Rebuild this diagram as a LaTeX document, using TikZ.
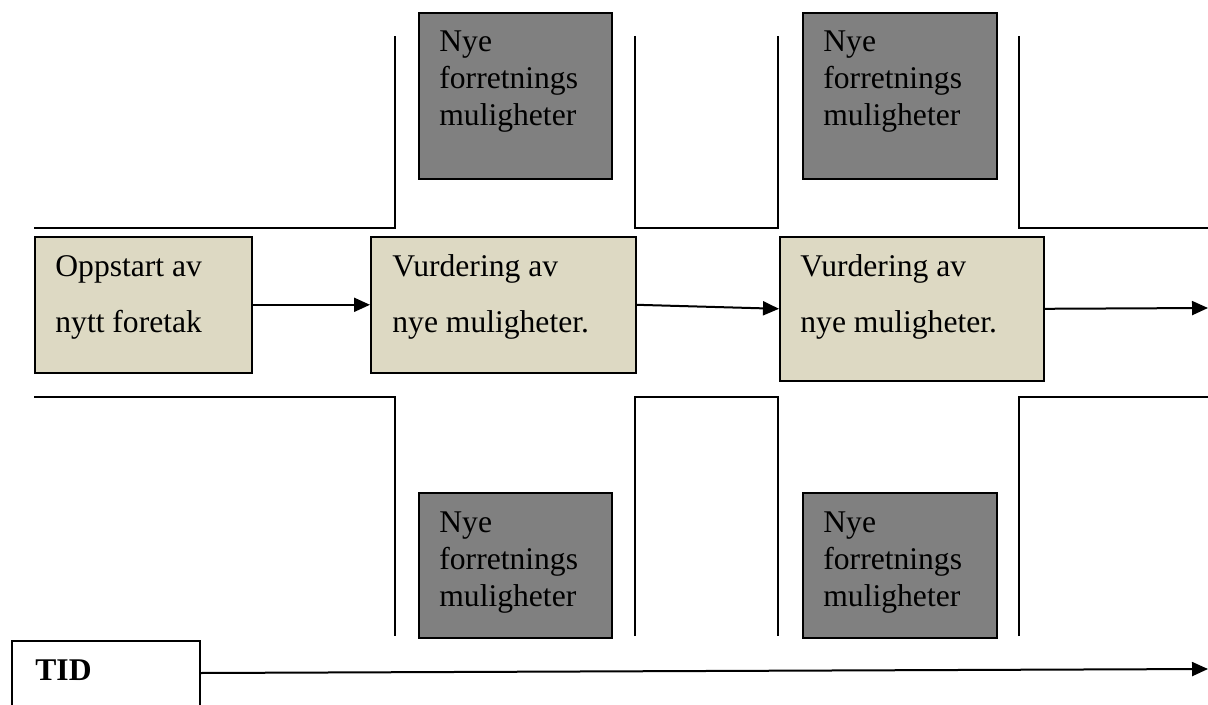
\documentclass[tikz,border=0pt]{standalone}
\usepackage{fontspec}
\setmainfont{Liberation Serif}
\usetikzlibrary{arrows.meta,calc}
\definecolor{boxbeige}{HTML}{DDD9C3}
\definecolor{boxgrey}{HTML}{808080}
\begin{document}
\begin{tikzpicture}[x=0.5pt,y=-0.5pt,
  lbl/.style={anchor=base west,inner sep=0,font=\fontsize{15.8pt}{19pt}\selectfont},
  beigebox/.style={draw=black,fill=boxbeige,line width=0.8pt,anchor=north west,inner sep=0},
  greybox/.style={draw=black,fill=boxgrey,line width=0.8pt,anchor=north west,inner sep=0},
  tidbox/.style={draw=black,line width=0.8pt,anchor=north west,inner sep=0},
  wall/.style={draw=black,line width=0.8pt},
  flow/.style={draw=black,line width=1pt,-{Triangle[length=8pt,width=7pt]}}
]
\clip (0,0) rectangle (1208,705);
\fill[white] (0,0) rectangle (1208,705);

% corridor walls
\draw[wall] (34,228) -- (395,228) -- (395,36);
\draw[wall] (635,36) -- (635,228) -- (778,228) -- (778,36);
\draw[wall] (1019,36) -- (1019,228) -- (1208,228);
\draw[wall] (34,397) -- (395,397) -- (395,636);
\draw[wall] (635,636) -- (635,397) -- (778,397) -- (778,636);
\draw[wall] (1019,636) -- (1019,397) -- (1208,397);

% grey boxes
\node[greybox,minimum width=96.5pt,minimum height=83pt] (g1) at (418,12) {};
\node[greybox,minimum width=97pt,minimum height=83pt] (g2) at (802,12) {};
\node[greybox,minimum width=96.5pt,minimum height=72.5pt] (g3) at (418,492) {};
\node[greybox,minimum width=97pt,minimum height=72.5pt] (g4) at (802,492) {};

\node[lbl] (g1a) at (439,52) {Nye};
\node[lbl] (g1b) at (439,89) {forretnings};
\node[lbl] (g1c) at (439,126) {muligheter};
\node[lbl] (g2a) at (823,52) {Nye};
\node[lbl] (g2b) at (823,89) {forretnings};
\node[lbl] (g2c) at (823,126) {muligheter};
\node[lbl] (g3a) at (439,532) {Nye};
\node[lbl] (g3b) at (439,569) {forretnings};
\node[lbl] (g3c) at (439,606) {muligheter};
\node[lbl] (g4a) at (823,532) {Nye};
\node[lbl] (g4b) at (823,569) {forretnings};
\node[lbl] (g4c) at (823,606) {muligheter};

% beige process boxes
\node[beigebox,minimum width=108.5pt,minimum height=68pt] (b1) at (34,236) {};
\node[beigebox,minimum width=132.5pt,minimum height=68pt] (b2) at (370,236) {};
\node[beigebox,minimum width=132pt,minimum height=72pt] (b3) at (779,236) {};

\node[lbl] (b1a) at (55,277) {Oppstart av};
\node[lbl] (b1b) at (55,332) {nytt foretak};
\node[lbl] (b2a) at (392,277) {Vurdering av};
\node[lbl] (b2b) at (392,332) {nye muligheter.};
\node[lbl] (b3a) at (800,277) {Vurdering av};
\node[lbl] (b3b) at (800,332) {nye muligheter.};

\coordinate (out) at (1208,308);
\draw[flow] (b1.east) -- (b2.west);
\draw[flow] (b2.east) -- (b3.west);
\draw[flow] (b3.east) -- (out);

% time axis
\node[tidbox,minimum width=94pt,minimum height=60pt] (tid) at (11,640) {};
\node[lbl,font=\fontsize{15.8pt}{19pt}\selectfont\bfseries] (tidt) at (35,680) {TID};
\coordinate (tend) at (1208,669);
\draw[flow] ($(tid.north east)+(0,33)$) -- (tend);
\end{tikzpicture}
\end{document}
